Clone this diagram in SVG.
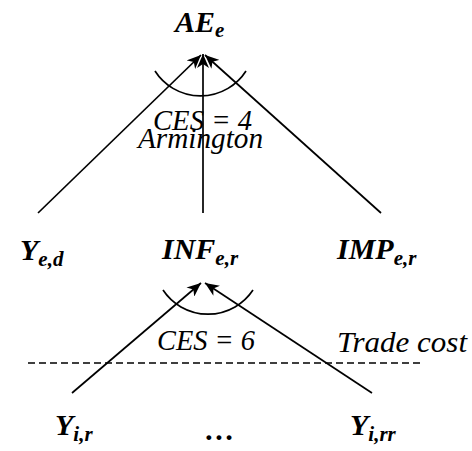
<svg xmlns="http://www.w3.org/2000/svg" width="472" height="451" viewBox="0 0 472 451">
<style>
.lbl{font-family:"Liberation Serif","Times New Roman",serif;font-weight:bold;font-style:italic;font-size:30px;fill:#000}
.sub{font-size:21px}
.note{font-family:"Liberation Serif","Times New Roman",serif;font-style:italic;font-size:29px;fill:#000}
.ln{stroke:#000;stroke-width:1.7;fill:none}
</style>
<defs>
<marker id="ah" markerUnits="userSpaceOnUse" markerWidth="16" markerHeight="12" refX="14" refY="6" orient="auto">
<path d="M0,0 L14,6 L0,12 L4,6 z" fill="#000"/>
</marker>
</defs>
<g id="connectors">
<line class="ln" x1="38" y1="213" x2="201" y2="55" marker-end="url(#ah)"/>
<line class="ln" x1="203" y1="213" x2="203" y2="54" marker-end="url(#ah)"/>
<line class="ln" x1="381" y1="213" x2="205" y2="55" marker-end="url(#ah)"/>
<path class="ln" d="M155,71 A54,54 0 0 0 246,71"/>
<line class="ln" x1="72" y1="393" x2="201" y2="283" marker-end="url(#ah)"/>
<line class="ln" x1="372" y1="393" x2="205" y2="283" marker-end="url(#ah)"/>
<path class="ln" d="M163,290 A54,54 0 0 0 253,290"/>
<line x1="28" y1="363" x2="423" y2="363" stroke="#000" stroke-width="1.5" stroke-dasharray="7,4"/>
</g>
<g id="AE"><text class="lbl" x="175" y="32">AE<tspan class="sub" dy="5">e</tspan></text></g>
<g id="Yed"><text class="lbl" x="20" y="260">Y<tspan class="sub" dy="6">e,d</tspan></text></g>
<g id="INF"><text class="lbl" x="162" y="259">INF<tspan class="sub" dy="6">e,r</tspan></text></g>
<g id="IMP"><text class="lbl" x="337" y="259">IMP<tspan class="sub" dy="6">e,r</tspan></text></g>
<g id="Yir"><text class="lbl" x="55" y="435">Y<tspan class="sub" dy="6">i,r</tspan></text></g>
<g id="dots"><text class="lbl" x="205" y="440">…</text></g>
<g id="Yirr"><text class="lbl" x="350" y="435">Y<tspan class="sub" dy="6">i,rr</tspan></text></g>
<g id="notes">
<text class="note" x="153" y="130" textLength="99" lengthAdjust="spacingAndGlyphs">CES = 4</text>
<text class="note" x="138" y="148" textLength="125" lengthAdjust="spacingAndGlyphs">Armington</text>
<text class="note" x="157" y="350" textLength="98" lengthAdjust="spacingAndGlyphs">CES = 6</text>
<text class="note" x="337" y="352" textLength="130" lengthAdjust="spacingAndGlyphs">Trade cost</text>
</g>
</svg>
